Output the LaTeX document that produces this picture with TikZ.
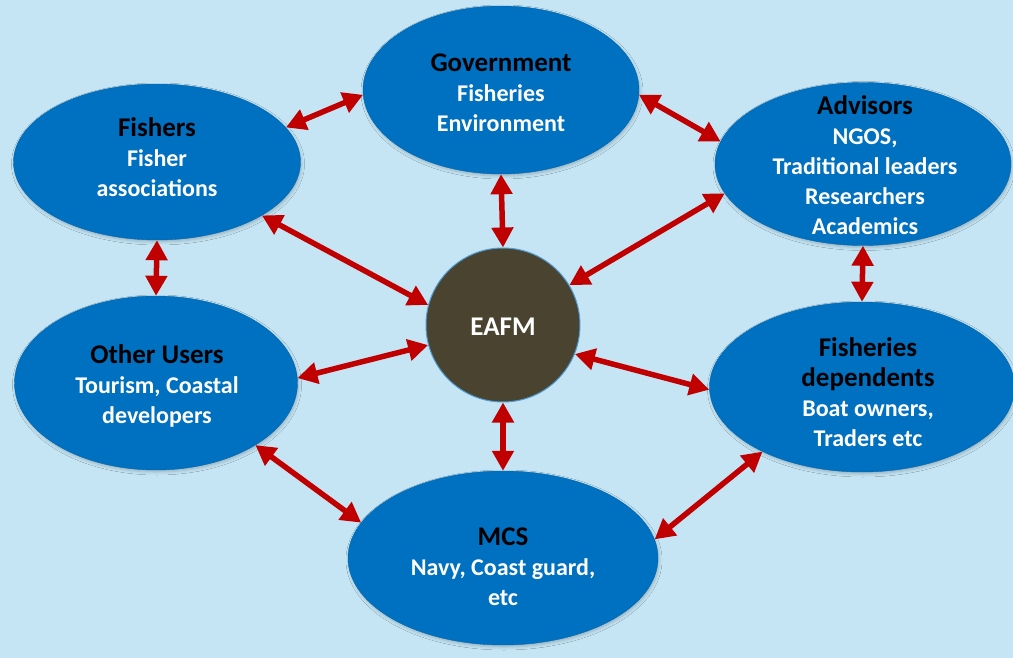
\documentclass[tikz,border=0pt]{standalone}
\usepackage{fontspec}
\setmainfont{Carlito}
\usetikzlibrary{shapes.geometric,arrows.meta,shadows.blur}
\definecolor{bg}{HTML}{C5E5F4}
\definecolor{ellblue}{HTML}{0070C0}
\definecolor{eafmfill}{HTML}{4A4330}
\definecolor{arr}{HTML}{C00000}
\newcommand\ttl[1]{{\color{black}\fontsize{27}{33}\selectfont #1}}
\begin{document}
\begin{tikzpicture}[x=1pt,y=-1pt,
  ell/.style={ellipse, fill=ellblue, draw=ellblue!92!black, line width=0.4pt, inner sep=0pt,
    blur shadow={shadow xshift=1pt, shadow yshift=-2pt, shadow blur radius=3pt, shadow opacity=22}},
  sub/.style={text=white, font=\bfseries\fontsize{24}{30}\selectfont, align=center, inner sep=0pt},
  link/.style={arr, line width=5.5pt, {Triangle[length=20pt,width=21pt]}-{Triangle[length=20pt,width=21pt]}}]
\fill[bg] (0,0) rectangle (1013,658);
\useasboundingbox (0,0) rectangle (1013,658);
% ellipses
\node[ell, minimum width=276pt, minimum height=168pt] (gov) at (501,90) {};
\node[ell, minimum width=287pt, minimum height=156pt] (fish) at (157,162) {};
\node[ell, minimum width=296pt, minimum height=163pt] (adv) at (863,164) {};
\node[ell, minimum width=283pt, minimum height=174pt] (oth) at (156,383) {};
\node[ell, minimum width=305pt, minimum height=170pt] (fd) at (862,387) {};
\node[ell, minimum width=310pt, minimum height=174pt] (mcs) at (503,558) {};
\node[circle, fill=eafmfill, draw=ellblue!70!white, line width=1pt, minimum size=154pt, inner sep=0pt] (eafm) at (503,325) {};
% texts
\node[sub] (govt) at (501,93) {\ttl{Government}\\Fisheries\\Environment};
\node[sub] (fisht) at (157,157) {\ttl{Fishers}\\Fisher\\associations};
\node[sub] (advt) at (865,165) {\ttl{Advisors}\\NGOS,\\Traditional leaders\\Researchers\\Academics};
\node[sub] (otht) at (157,386) {\ttl{Other Users}\\Tourism, Coastal\\developers};
\node[sub] (fdt) at (868,392) {\ttl{Fisheries}\\\ttl{dependents}\\Boat owners,\\Traders etc};
\node[sub] (mcst) at (503,567) {\ttl{MCS}\\Navy, Coast guard,\\etc};
\node[text=white, font=\bfseries\fontsize{27}{33}\selectfont, inner sep=0pt] (eafmt) at (503,327) {EAFM};
% connectors
\draw[link] (fish.15) -- (gov.182);
\draw[link] (gov.358) -- (adv.171);
\draw[link] (gov.south) -- (eafm.north);
\draw[link] (fish.-27) -- (eafm.165);
\draw[link] (adv.192) -- (eafm.31);
\draw[link] (fish.south) -- (oth.north);
\draw[link] (adv.south) -- (fd.north);
\draw[link] (oth.2) -- (eafm.195);
\draw[link] (eafm.338) -- (fd.181);
\draw[link] (eafm.south) -- (mcs.north);
\draw[link] (oth.-32) -- (mcs.166);
\draw[link] (fd.213) -- (mcs.7);
\end{tikzpicture}
\end{document}
